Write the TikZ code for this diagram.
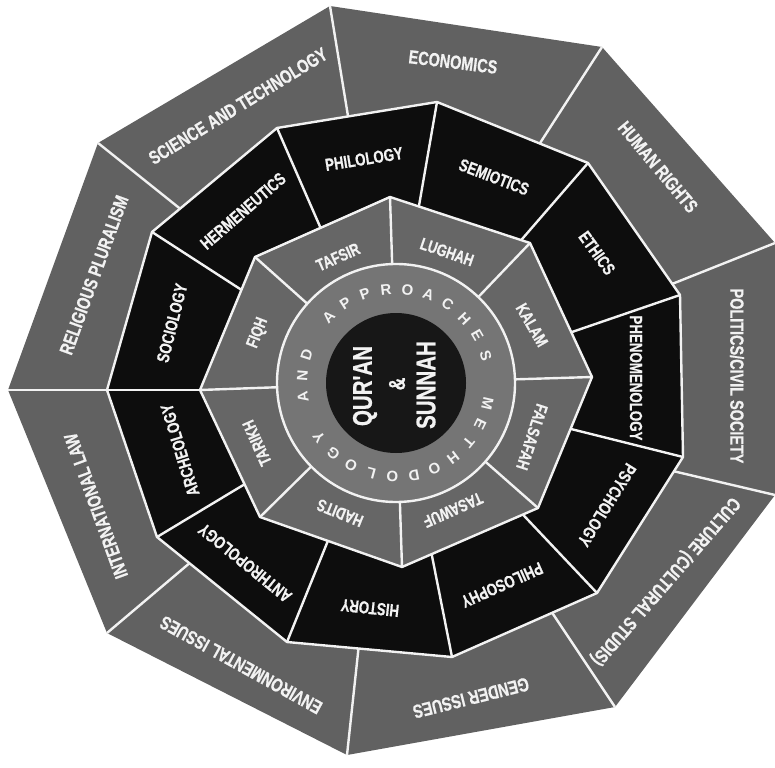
\documentclass[tikz,border=0pt]{standalone}
\usepackage{fontspec}
\usetikzlibrary{calc}
\newfontfamily\lblfont[FakeStretch=0.76, BoldFeatures={FakeBold=0.6}]{Liberation Sans}
\newfontfamily\ringfont{Liberation Sans}
\definecolor{outergray}{gray}{0.38}
\definecolor{innergray}{gray}{0.40}
\definecolor{ringgray}{gray}{0.46}
\definecolor{blk}{gray}{0.05}
\definecolor{coredark}{gray}{0.09}
\definecolor{lin}{gray}{0.95}
\tikzset{
  lbl/.style={text=lin, inner sep=0pt},
  outerlbl/.style={lbl, font=\lblfont\bfseries\fontsize{19}{19}\selectfont},
  midlbl/.style={lbl, font=\lblfont\bfseries\fontsize{17.5}{17.5}\selectfont},
  innerlbl/.style={lbl, font=\lblfont\bfseries\fontsize{17}{17}\selectfont},
  corelbl/.style={lbl, font=\lblfont\bfseries\fontsize{27}{27}\selectfont},
  ringlbl/.style={lbl, font=\ringfont\bfseries\fontsize{15}{15}\selectfont},
  divider/.style={draw=lin, line width=2.4pt, shorten >=-20pt},
  ringedge/.style={draw=lin, line width=2.4pt, line join=round},
}
\begin{document}
\begin{tikzpicture}[x=1pt,y=-1pt]
\useasboundingbox (0,0) rectangle (775,767);
% outer nonagon
\coordinate (o1) at (330,6);
\coordinate (o2) at (602,47);
\coordinate (o3) at (775,243);
\coordinate (o4) at (775,495);
\coordinate (o5) at (615,707);
\coordinate (o6) at (347,755);
\coordinate (o7) at (107,633);
\coordinate (o8) at (8,390);
\coordinate (o9) at (98,143);
% outer divider ends
\coordinate (p1) at (347,110);
\coordinate (p2) at (542,140);
\coordinate (p3) at (677,282);
\coordinate (p4) at (677,472);
\coordinate (p5) at (555,617);
\coordinate (p6) at (358,653);
\coordinate (p7) at (185,567);
\coordinate (p8) at (107,390);
\coordinate (p9) at (173,203);
% middle 11-gon
\coordinate (m1) at (277,128);
\coordinate (m2) at (437,102);
\coordinate (m3) at (588,163);
\coordinate (m4) at (680,295);
\coordinate (m5) at (683,457);
\coordinate (m6) at (597,593);
\coordinate (m7) at (452,657);
\coordinate (m8) at (287,642);
\coordinate (m9) at (157,537);
\coordinate (m10) at (107,390);
\coordinate (m11) at (152,232);
% middle divider ends
\coordinate (q1) at (318,222);
\coordinate (q2) at (420,200);
\coordinate (q3) at (523,238);
\coordinate (q4) at (572,332);
\coordinate (q5) at (575,430);
\coordinate (q6) at (528,520);
\coordinate (q7) at (432,556);
\coordinate (q8) at (325,548);
\coordinate (q9) at (240,487);
\coordinate (q10) at (200,390);
\coordinate (q11) at (237,287);
% inner octagon
\coordinate (i1) at (255,257);
\coordinate (i2) at (390,197);
\coordinate (i3) at (530,243);
\coordinate (i4) at (592,377);
\coordinate (i5) at (538,508);
\coordinate (i6) at (402,567);
\coordinate (i7) at (260,517);
\coordinate (i8) at (200,390);
\coordinate (c) at (396,383);

\fill[outergray] (o1) -- (o2) -- (o3) -- (o4) -- (o5) -- (o6) -- (o7) -- (o8) -- (o9) -- cycle;
\foreach \k in {1,...,9} { \draw[divider] (o\k) -- (p\k); }

\filldraw[fill=blk, ringedge] (m1) -- (m2) -- (m3) -- (m4) -- (m5) -- (m6) -- (m7) -- (m8) -- (m9) -- (m10) -- (m11) -- cycle;
\foreach \k in {1,...,11} { \draw[divider] (m\k) -- (q\k); }

\filldraw[fill=innergray, ringedge] (i1) -- (i2) -- (i3) -- (i4) -- (i5) -- (i6) -- (i7) -- (i8) -- cycle;
\foreach \k in {1,...,8} { \draw[draw=lin, line width=2.4pt] (i\k) -- (c); }

\filldraw[fill=ringgray, ringedge] (c) circle [radius=119pt];
\fill[coredark] (c) circle [radius=70pt];

% outer labels
\node[outerlbl, rotate=-7] (econ) at (453,62) {ECONOMICS};
\node[outerlbl, rotate=-50] (hr) at (658,167) {HUMAN RIGHTS};
\node[outerlbl, rotate=-90] (pol) at (737,376) {POLITICS/CIVIL SOCIETY};
\node[outerlbl, rotate=-131] (cult) at (665,581) {CULTURE (CULTURAL STUDIS)};
\node[outerlbl, rotate=-166] (gend) at (471,698) {GENDER ISSUES};
\node[outerlbl, rotate=151] (env) at (241,665) {ENVIRONMENTAL ISSUES};
\node[outerlbl, rotate=110] (intl) at (96,506) {INTERNATIONAL LAW};
\node[outerlbl, rotate=70] (relig) at (94,275) {RELIGIOUS PLURALISM};
\node[outerlbl, rotate=31.5] (sci) at (238,106) {SCIENCE AND TECHNOLOGY};

% middle labels
\node[midlbl, rotate=9] (philol) at (364,159) {PHILOLOGY};
\node[midlbl, rotate=-21] (semio) at (494,177) {SEMIOTICS};
\node[midlbl, rotate=-54] (ethic) at (597,253) {ETHICS};
\node[midlbl, rotate=-90] (phen) at (636,378) {PHENOMENOLOGY};
\node[midlbl, rotate=-122] (psych) at (607,505) {PSYCHOLOGY};
\node[midlbl, rotate=-156] (philos) at (502,585) {PHILOSOPHY};
\node[midlbl, rotate=174] (hist) at (370,608) {HISTORY};
\node[midlbl, rotate=141] (anth) at (245,563) {ANTHROPOLOGY};
\node[midlbl, rotate=107] (arch) at (180,450) {ARCHEOLOGY};
\node[midlbl, rotate=76] (soc) at (172,323) {SOCIOLOGY};
\node[midlbl, rotate=41] (herm) at (243,211) {HERMENEUTICS};

% inner labels
\node[innerlbl, rotate=24] (tafsir) at (338,257) {TAFSIR};
\node[innerlbl, rotate=-19] (lughah) at (447,252) {LUGHAH};
\node[innerlbl, rotate=-60] (kalam) at (532,325) {KALAM};
\node[innerlbl, rotate=-108] (falsafah) at (532,437) {FALSAFAH};
\node[innerlbl, rotate=-156] (tasawuf) at (453,510) {TASAWUF};
\node[innerlbl, rotate=158] (hadits) at (340,513) {HADITS};
\node[innerlbl, rotate=114] (tarikh) at (257,443) {TARIKH};
\node[innerlbl, rotate=69] (fiqh) at (258,333) {FIQH};

% ring text
\foreach \idx/\ch in {0/M,1/E,2/T,3/H,4/O,5/D,6/O,7/L,8/O,9/G,10/Y,12/A,13/N,14/D,16/A,17/P,18/P,19/R,20/O,21/A,22/C,23/H,24/E,25/S} {
  \pgfmathsetmacro{\ang}{-13-13.2*\idx}
  \node[ringlbl, rotate=\ang-90] at ($(c)+(\ang:94pt)$) {\ch};
}

% core
\node[corelbl, rotate=90] (quran) at (365,386) {QUR'AN};
\node[lbl, font=\lblfont\bfseries\fontsize{23}{23}\selectfont, rotate=90] (amp) at (397,384) {\&};
\node[corelbl, rotate=90] (sunnah) at (426,385) {SUNNAH};
\end{tikzpicture}
\end{document}
